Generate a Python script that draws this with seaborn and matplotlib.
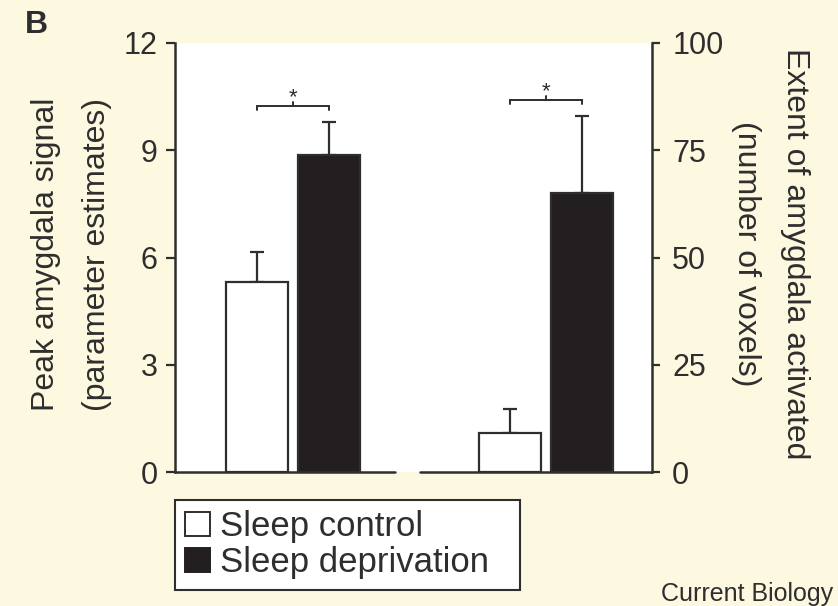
import matplotlib
matplotlib.use("Agg")
import matplotlib.pyplot as plt
from matplotlib.patches import Patch
import numpy as np
import pandas as pd
import seaborn as sns

# Amygdala response to aversive pictures: peak signal (left axis) and
# spatial extent of activation (right axis), sleep control vs sleep deprivation.
measures = ["Peak amygdala signal", "Extent of amygdala activated"]
conditions = ["Sleep control", "Sleep deprivation"]
peak_means = [5.31, 8.87]
peak_sem = [0.84, 0.92]
extent_means = [9.1, 65.0]
extent_sem = [5.6, 18.0]
left_ticks = [0, 3, 6, 9, 12]
right_ticks = [0, 25, 50, 75, 100]
peak_star_y = 10.24
extent_star_y = 86.7

sns.set_theme(style="white")
plt.rcParams["font.family"] = ["Liberation Sans", "DejaVu Sans"]

BG = "#fdf8e0"
INK = "#2e2e2e"
BAR_DARK = "#231f20"
plt.rcParams.update({
    "text.color": INK, "axes.labelcolor": INK,
    "xtick.color": INK, "ytick.color": INK,
    "axes.edgecolor": INK,
})

W, H = 838, 606
fig = plt.figure(figsize=(W / 100, H / 100), dpi=100, facecolor=BG)
ax = fig.add_axes([175 / W, 1 - 472 / H, 477 / W, 429 / H])
ax.set_facecolor("white")
ax2 = ax.twinx()

peak_df = pd.DataFrame({"measure": measures[0], "condition": conditions, "value": peak_means})
extent_df = pd.DataFrame({"measure": measures[1], "condition": conditions, "value": extent_means})

palette = {conditions[0]: "white", conditions[1]: BAR_DARK}
bar_kw = dict(x="measure", y="value", hue="condition", order=measures,
              hue_order=conditions, palette=palette, width=0.57, gap=0.14,
              errorbar=None, edgecolor=INK, linewidth=1.6, legend=False,
              saturation=1)
sns.barplot(data=peak_df, ax=ax, **bar_kw)
sns.barplot(data=extent_df, ax=ax2, **bar_kw)

ax.set_ylim(0, 12)
ax2.set_ylim(0, 100)
ax.set_xlim(-0.466, 1.419)


def bar_centers(axis):
    return sorted(p.get_x() + p.get_width() / 2 for p in axis.patches)


def bracket(axis, xs, y):
    lo, hi = axis.get_ylim()
    px = (hi - lo) / 429.0
    axis.plot([xs[0], xs[0], xs[1], xs[1]], [y - 4 * px, y, y, y - 4 * px],
              color=INK, lw=1.4, solid_joinstyle="miter", zorder=3)
    xm = (xs[0] + xs[1]) / 2
    axis.plot([xm, xm], [y, y + 4 * px], color=INK, lw=1.4, zorder=3)
    axis.text(xm, y + 3 * px, "*", ha="center", va="baseline",
              fontsize=16, color=INK)


for axis, means, sems, star_y in ((ax, peak_means, peak_sem, peak_star_y),
                                  (ax2, extent_means, extent_sem, extent_star_y)):
    xs = bar_centers(axis)
    axis.errorbar(xs, means, yerr=[np.zeros(len(sems)), sems], fmt="none",
                  ecolor=INK, elinewidth=1.6, capsize=5, capthick=1.6, zorder=0.9)
    bracket(axis, xs, star_y)

# Axes styling
for a in (ax, ax2):
    a.set_xlabel("")
    a.set_ylabel("")
    a.set_xticks([])
    for s in ("top", "bottom"):
        a.spines[s].set_visible(False)
ax.spines["right"].set_visible(False)
ax2.spines["left"].set_visible(False)
ax.spines["left"].set_linewidth(1.8)
ax2.spines["right"].set_linewidth(1.8)

ax.set_yticks(left_ticks)
ax.set_yticklabels([str(t) for t in left_ticks])
ax2.set_yticks(right_ticks)
ax2.set_yticklabels([str(t) for t in right_ticks])
ax.tick_params(axis="y", direction="out", length=6.5, width=1.6, pad=6,
               labelsize=22, left=True, right=False)
ax2.tick_params(axis="y", direction="out", length=6, width=1.6, pad=8.5,
                labelsize=22, right=True, left=False)

# Split baseline under the two groups
ax.axhline(0, xmin=0, xmax=0.461, color=INK, lw=1.8, clip_on=False, zorder=4)
ax.axhline(0, xmin=0.514, xmax=1, color=INK, lw=1.8, clip_on=False, zorder=4)

# Axis titles
fig.text(46 / W, 1 - 254 / H, "Peak amygdala signal", rotation=90,
         ha="center", va="center", fontsize=23)
fig.text(97 / W, 1 - 254 / H, "(parameter estimates)", rotation=90,
         ha="center", va="center", fontsize=23)
fig.text(795 / W, 1 - 254 / H, "Extent of amygdala activated", rotation=270,
         ha="center", va="center", fontsize=23)
fig.text(746 / W, 1 - 254 / H, "(number of voxels)", rotation=270,
         ha="center", va="center", fontsize=23)

# Panel letter and journal credit
fig.text(25 / W, 1 - 33 / H, "B", fontsize=23, fontweight="bold", va="baseline")
fig.text(833 / W, 1 - 601 / H, "Current Biology", fontsize=18, ha="right",
         va="baseline")

handles = [Patch(facecolor="white", edgecolor=INK, linewidth=1.4),
           Patch(facecolor=BAR_DARK, edgecolor=BAR_DARK, linewidth=1.4)]
leg = fig.legend(handles, conditions, loc="upper left",
                 bbox_to_anchor=(175 / W, 1 - 589 / H, 345 / W, 89 / H),
                 mode="expand", borderaxespad=0, fontsize=25,
                 handlelength=0.7, handleheight=0.7, handletextpad=0.3,
                 labelspacing=0.08, borderpad=0.3, frameon=True,
                 fancybox=False, edgecolor=INK, facecolor="white",
                 framealpha=1)
leg.get_frame().set_linewidth(1.5)

fig.savefig("out.png", dpi=100, facecolor=BG)
